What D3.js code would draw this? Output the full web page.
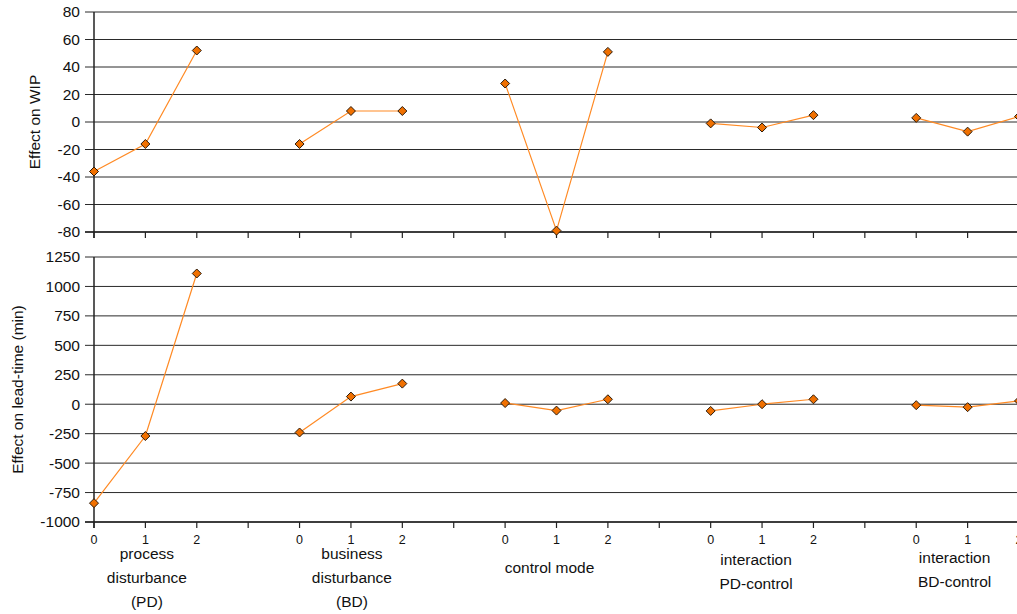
<!DOCTYPE html>
<html>
<head>
<meta charset="utf-8">
<script src="https://cdn.jsdelivr.net/npm/d3@7"></script>
<style>
  html, body { margin: 0; padding: 0; background: #fff; }
  svg { display: block; font-family: "Liberation Sans", Arial, Helvetica, sans-serif; }
</style>
</head>
<body>
<svg id="chart" width="1017" height="614"></svg>
<script>
// ---------------- data ----------------
const groupLabels = [
  ["process", "disturbance", "(PD)"],
  ["business", "disturbance", "(BD)"],
  ["control mode"],
  ["interaction", "PD-control"],
  ["interaction", "BD-control"]
];
const levels = ["0", "1", "2"];
const wipValues = [
  [-36, -16, 52],
  [-16, 8, 8],
  [28, -79, 51],
  [-1, -4, 5],
  [3, -7, 4]
];
const leadValues = [
  [-840, -270, 1110],
  [-240, 65, 175],
  [10, -54, 42],
  [-57, 0, 42],
  [-8, -25, 28]
];
const wipTicks = [-80, -60, -40, -20, 0, 20, 40, 60, 80];
const leadTicks = [-1000, -750, -500, -250, 0, 250, 500, 750, 1000, 1250];
const wipTitle = "Effect on WIP";
const leadTitle = "Effect on lead-time (min)";

// ---------------- layout ----------------
const svg = d3.select("#chart");
const slotsPerGroup = 4;
const axisX = 94;
const x = d3.scaleLinear().domain([0, 18]).range([axisX, 1019]);
const xMax = 1017;
const fontSize = 15.5;

// flatten: slot index for each point
function points(values) {
  const pts = [];
  values.forEach((g, gi) => g.forEach((v, li) => pts.push({ g: gi, slot: gi * slotsPerGroup + li, v })));
  return pts;
}

function panel(values, ticks, top, bottom, title, titleX) {
  const y = d3.scaleLinear().domain([ticks[0], ticks[ticks.length - 1]]).range([bottom, top]);
  const g = svg.append("g");

  // gridlines
  g.selectAll("line.grid").data(ticks).join("line")
    .attr("x1", axisX - 9).attr("x2", xMax)
    .attr("y1", d => y(d)).attr("y2", d => y(d))
    .attr("stroke", "#2a2a2a").attr("stroke-width", 1);

  // y tick labels
  g.selectAll("text.ytick").data(ticks).join("text")
    .attr("x", 80).attr("y", d => y(d)).attr("dy", "0.35em")
    .attr("text-anchor", "end").attr("font-size", fontSize).attr("fill", "#111")
    .text(d => d);

  // left axis line
  g.append("line").attr("x1", axisX).attr("x2", axisX)
    .attr("y1", top).attr("y2", bottom + 6)
    .attr("stroke", "#222").attr("stroke-width", 1.5);

  // bottom axis line + ticks
  g.append("line").attr("x1", axisX - 9).attr("x2", xMax)
    .attr("y1", bottom).attr("y2", bottom)
    .attr("stroke", "#222").attr("stroke-width", 1.5);
  g.selectAll("line.xt").data(d3.range(0, 20)).join("line")
    .attr("x1", d => x(d)).attr("x2", d => x(d))
    .attr("y1", bottom).attr("y2", bottom + 6)
    .attr("stroke", "#222").attr("stroke-width", 1.2);

  // title
  g.append("text")
    .attr("transform", `translate(${titleX},${(top + bottom) / 2}) rotate(-90)`)
    .attr("text-anchor", "middle").attr("dy", "0.35em")
    .attr("font-size", fontSize).attr("fill", "#111")
    .text(title);

  // series lines
  const line = d3.line().x(d => x(d.slot)).y(d => y(d.v));
  const pts = points(values);
  d3.groups(pts, d => d.g).forEach(([k, arr]) => {
    g.append("path").attr("d", line(arr))
      .attr("fill", "none").attr("stroke", "#ff8a24").attr("stroke-width", 1.2);
  });

  // diamond markers
  g.selectAll("path.mk").data(pts).join("path")
    .attr("d", "M0,-4.5L4.5,0L0,4.5L-4.5,0Z")
    .attr("transform", d => `translate(${x(d.slot)},${y(d.v)})`)
    .attr("fill", "#f07000").attr("stroke", "#2b1a0a").attr("stroke-width", 1);
  return y;
}

panel(wipValues, wipTicks, 12, 232, wipTitle, 35);
panel(leadValues, leadTicks, 257, 522, leadTitle, 18);

// x tick labels (levels)
const tickData = [];
groupLabels.forEach((_, gi) => levels.forEach((l, li) => tickData.push({ slot: gi * slotsPerGroup + li, l })));
svg.selectAll("text.xl").data(tickData).join("text")
  .attr("x", d => x(d.slot)).attr("y", 544)
  .attr("text-anchor", "middle").attr("font-size", 12.5).attr("fill", "#111")
  .text(d => d.l);

// group labels
const labelLayout = [
  { dx: 1.5, y0: 559, lh: 24 },
  { dx: 1, y0: 559, lh: 24 },
  { dx: -7, y0: 573, lh: 24 },
  { dx: -6, y0: 565, lh: 24 },
  { dx: -13, y0: 563, lh: 24 }
];
groupLabels.forEach((lines, gi) => {
  const cx = x(gi * slotsPerGroup + 1) + labelLayout[gi].dx;
  lines.forEach((t, i) => {
    svg.append("text")
      .attr("x", cx).attr("y", labelLayout[gi].y0 + i * labelLayout[gi].lh)
      .attr("text-anchor", "middle").attr("font-size", fontSize).attr("fill", "#111")
      .text(t);
  });
});
</script>
</body>
</html>
